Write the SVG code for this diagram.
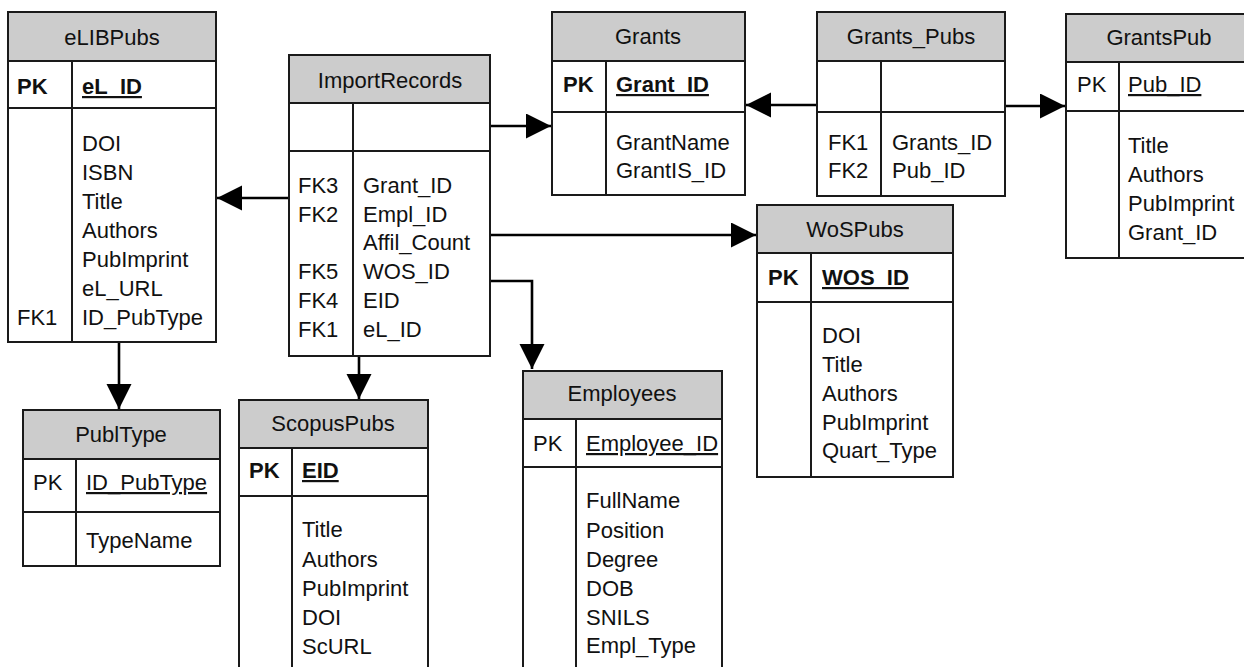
<svg xmlns="http://www.w3.org/2000/svg" width="1244" height="667" viewBox="0 0 1244 667">
<style>
.box{fill:#fff;stroke:#1a1a1a;stroke-width:2}
.hdr{fill:#cccccc;stroke:#1a1a1a;stroke-width:2}
.ln{stroke:#1a1a1a;stroke-width:2;fill:none}
.t{font-family:"Liberation Sans",Arial,sans-serif;font-size:22px;fill:#111}
.c{text-anchor:middle}
.b{font-weight:bold}
.u{text-decoration:underline}
.con{stroke:#000;stroke-width:2.6;fill:none}
</style>
<defs>
<marker id="arr" markerUnits="userSpaceOnUse" markerWidth="26" markerHeight="26" refX="25" refY="12.5" orient="auto">
<path d="M0,0 L25,12.5 L0,25 z" fill="#000"/>
</marker>
</defs>
<rect width="1244" height="667" fill="#fff"/>

<g id="connectors">
<path class="con" d="M289,198 H217" marker-end="url(#arr)"/>
<path class="con" d="M490,126 H551" marker-end="url(#arr)"/>
<path class="con" d="M817,105 H746" marker-end="url(#arr)"/>
<path class="con" d="M1005,106 H1065" marker-end="url(#arr)"/>
<path class="con" d="M490,235 H756" marker-end="url(#arr)"/>
<path class="con" d="M490,281 H532 V369" marker-end="url(#arr)"/>
<path class="con" d="M359,356 V399" marker-end="url(#arr)"/>
<path class="con" d="M119,342 V409" marker-end="url(#arr)"/>
</g>

<g id="eLIBPubs">
<rect class="box" x="8" y="12" width="208" height="330"/>
<rect class="hdr" x="8" y="12" width="208" height="49"/>
<path class="ln" d="M8,108 H216 M72,61 V342"/>
<text class="t c" x="112" y="45">eLIBPubs</text>
<text class="t b" x="17" y="94">PK</text>
<text class="t b u" x="82" y="94">eL_ID</text>
<text class="t" x="82" y="151">DOI</text>
<text class="t" x="82" y="180">ISBN</text>
<text class="t" x="82" y="209">Title</text>
<text class="t" x="82" y="238">Authors</text>
<text class="t" x="82" y="267">PubImprint</text>
<text class="t" x="82" y="296">eL_URL</text>
<text class="t" x="82" y="325">ID_PubType</text>
<text class="t" x="17" y="325">FK1</text>
</g>

<g id="ImportRecords">
<rect class="box" x="289" y="55" width="201" height="301"/>
<rect class="hdr" x="289" y="55" width="201" height="48"/>
<path class="ln" d="M289,151 H490 M353,103 V356"/>
<text class="t c" x="390" y="88">ImportRecords</text>
<text class="t" x="298" y="193">FK3</text>
<text class="t" x="363" y="193">Grant_ID</text>
<text class="t" x="298" y="222">FK2</text>
<text class="t" x="363" y="222">Empl_ID</text>
<text class="t" x="363" y="250">Affil_Count</text>
<text class="t" x="298" y="279">FK5</text>
<text class="t" x="363" y="279">WOS_ID</text>
<text class="t" x="298" y="308">FK4</text>
<text class="t" x="363" y="308">EID</text>
<text class="t" x="298" y="337">FK1</text>
<text class="t" x="363" y="337">eL_ID</text>
</g>

<g id="Grants">
<rect class="box" x="552" y="12" width="193" height="183"/>
<rect class="hdr" x="552" y="12" width="193" height="49"/>
<path class="ln" d="M552,112 H745 M606,61 V195"/>
<text class="t c" x="648" y="44">Grants</text>
<text class="t b" x="563" y="92">PK</text>
<text class="t b u" x="616" y="92">Grant_ID</text>
<text class="t" x="616" y="150">GrantName</text>
<text class="t" x="616" y="178">GrantIS_ID</text>
</g>

<g id="Grants_Pubs">
<rect class="box" x="817" y="12" width="188" height="184"/>
<rect class="hdr" x="817" y="12" width="188" height="49"/>
<path class="ln" d="M817,112 H1005 M881,61 V196"/>
<text class="t c" x="911" y="44">Grants_Pubs</text>
<text class="t" x="828" y="150">FK1</text>
<text class="t" x="892" y="150">Grants_ID</text>
<text class="t" x="828" y="178">FK2</text>
<text class="t" x="892" y="178">Pub_ID</text>
</g>

<g id="GrantsPub">
<rect class="box" x="1066" y="14" width="186" height="244"/>
<rect class="hdr" x="1066" y="14" width="186" height="48"/>
<path class="ln" d="M1066,111 H1252 M1119,62 V258"/>
<text class="t c" x="1159" y="45">GrantsPub</text>
<text class="t" x="1077" y="92">PK</text>
<text class="t u" x="1128" y="92">Pub_ID</text>
<text class="t" x="1128" y="153">Title</text>
<text class="t" x="1128" y="182">Authors</text>
<text class="t" x="1128" y="211">PubImprint</text>
<text class="t" x="1128" y="240">Grant_ID</text>
</g>

<g id="WoSPubs">
<rect class="box" x="757" y="205" width="196" height="272"/>
<rect class="hdr" x="757" y="205" width="196" height="48"/>
<path class="ln" d="M757,302 H953 M811,253 V477"/>
<text class="t c" x="855" y="237">WoSPubs</text>
<text class="t b" x="768" y="285">PK</text>
<text class="t b u" x="822" y="285">WOS_ID</text>
<text class="t" x="822" y="343">DOI</text>
<text class="t" x="822" y="372">Title</text>
<text class="t" x="822" y="401">Authors</text>
<text class="t" x="822" y="430">PubImprint</text>
<text class="t" x="822" y="458">Quart_Type</text>
</g>

<g id="PublType">
<rect class="box" x="23" y="410" width="197" height="156"/>
<rect class="hdr" x="23" y="410" width="197" height="49"/>
<path class="ln" d="M23,512 H220 M76,459 V566"/>
<text class="t c" x="121" y="442">PublType</text>
<text class="t" x="33" y="490">PK</text>
<text class="t u" x="86" y="490">ID_PubType</text>
<text class="t" x="86" y="548">TypeName</text>
</g>

<g id="ScopusPubs">
<rect class="box" x="239" y="400" width="189" height="280"/>
<rect class="hdr" x="239" y="400" width="189" height="48"/>
<path class="ln" d="M239,496 H428 M292,448 V680"/>
<text class="t c" x="333" y="431">ScopusPubs</text>
<text class="t b" x="249" y="478">PK</text>
<text class="t b u" x="302" y="478">EID</text>
<text class="t" x="302" y="537">Title</text>
<text class="t" x="302" y="567">Authors</text>
<text class="t" x="302" y="596">PubImprint</text>
<text class="t" x="302" y="625">DOI</text>
<text class="t" x="302" y="654">ScURL</text>
</g>

<g id="Employees">
<rect class="box" x="523" y="371" width="199" height="309"/>
<rect class="hdr" x="523" y="371" width="199" height="48"/>
<path class="ln" d="M523,467 H722 M576,419 V680"/>
<text class="t c" x="622" y="401">Employees</text>
<text class="t" x="533" y="451">PK</text>
<text class="t u" x="586" y="451">Employee_ID</text>
<text class="t" x="586" y="508">FullName</text>
<text class="t" x="586" y="538">Position</text>
<text class="t" x="586" y="567">Degree</text>
<text class="t" x="586" y="596">DOB</text>
<text class="t" x="586" y="625">SNILS</text>
<text class="t" x="586" y="653">Empl_Type</text>
</g>
</svg>
